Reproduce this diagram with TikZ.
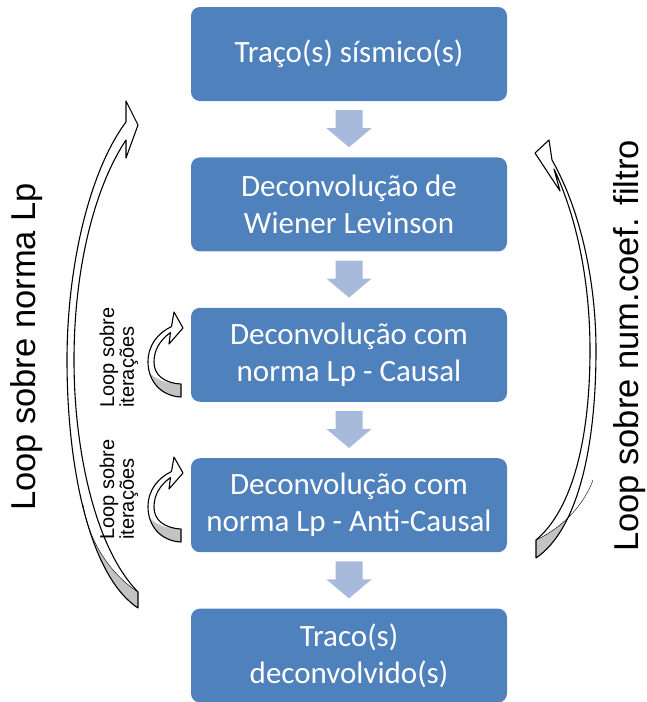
\documentclass[tikz,border=0pt]{standalone}
\usepackage{fontspec}
\setmainfont{Carlito}
\newfontfamily\arialfont{Liberation Sans}
\usetikzlibrary{positioning,calc}
\definecolor{boxblue}{RGB}{79,129,189}
\definecolor{arrowblue}{RGB}{167,186,220}
\definecolor{backgray}{RGB}{195,195,195}
% outlines of the curved loop arrows
\newcommand{\normapath}{(126,122) -- (126,101) -- (138,125) -- (126,158) -- (126,140)
  .. controls (94,188) and (74,270) .. (74,360) .. controls (74,450) and (95,548) .. (138,592)
  -- (138,608) .. controls (92,578) and (67,475) .. (67,360) .. controls (67,265) and (90,170) .. (126,122) -- cycle}
\newcommand{\coefpath}{(552,160) -- (549,140) -- (535,153) -- (560,191) -- (554,169)
  .. controls (578,220) and (590,285) .. (590,350) .. controls (590,440) and (572,510) .. (536,540)
  -- (536,558) .. controls (577,530) and (596,450) .. (596,350) .. controls (596,285) and (582,213) .. (552,160) -- cycle}
\newcommand{\iterpath}{(171.5,326.5) -- (174,312) -- (183,328) -- (169,344) -- (170.5,332.5)
  .. controls (160,340) and (154,350) .. (154,362) .. controls (154,375) and (164,383) .. (181,384)
  -- (181,397) .. controls (160,396) and (148,380) .. (148,362) .. controls (148,345) and (158,333) .. (171.5,326.5) -- cycle}

\begin{document}
\begin{tikzpicture}[x=1pt,y=-1pt]
  \tikzset{box/.style = {shape=rectangle,rounded corners=9pt,fill=boxblue,text=white,minimum width=316pt,minimum height=94pt,inner sep=0pt,align=center,font=\fontsize{31}{37}\selectfont}}
  \tikzset{flow/.style = {fill=arrowblue}}
  \tikzset{loopline/.style = {draw=black,line width=1.1pt,line join=round}}
  \tikzset{looplabel/.style = {font=\arialfont\fontsize{34.5}{40}\selectfont,rotate=90,anchor=base,inner sep=0pt}}
  \tikzset{iterlabel/.style = {font=\arialfont\fontsize{20}{17}\selectfont,rotate=90,anchor=north west,align=left,inner sep=0pt}}
  \useasboundingbox (0,0) rectangle (647,702);

  \node[box] (trace) at (349,54) {Traço(s) sísmico(s)};
  \node[box,below=56pt of trace] (wiener) {Deconvolução de\\Wiener Levinson};
  \node[box,below=56pt of wiener] (causal) {Deconvolução com\\norma Lp - Causal};
  \node[box,below=56pt of causal] (anticausal) {Deconvolução com\\norma Lp - Anti-Causal};
  \node[box,below=56pt of anticausal] (result) {Traco(s)\\deconvolvido(s)};

  \foreach \from/\to in {trace/wiener,wiener/causal,causal/anticausal,anticausal/result}
    \fill[flow] ($(\from.south)+(-13.5,9)$) -- ($(\from.south)+(13.5,9)$) -- ($(\from.south)+(13.5,27)$)
      -- ($(\from.south)+(22.5,27)$) -- ($(\to.north)+(0,-10)$) -- ($(\from.south)+(-22.5,27)$)
      -- ($(\from.south)+(-13.5,27)$) -- cycle;

  % loop sobre norma Lp
  \fill[white] \normapath;
  \begin{scope}
    \clip \normapath;
    \fill[backgray] (138,592) .. controls (112,575) and (90,545) .. (83,505) -- (0,505) -- (0,702) -- (145,702) -- (145,592) -- cycle;
  \end{scope}
  \draw[loopline] \normapath;
  \draw[black,thin] (138,592) .. controls (112,575) and (90,545) .. (83,505);

  % loop sobre num.coef. filtro
  \fill[white] \coefpath;
  \begin{scope}
    \clip \coefpath;
    \fill[backgray] (536,540) .. controls (562,528) and (584,505) .. (593,480) -- (647,480) -- (647,702) -- (530,702) -- (530,540) -- cycle;
  \end{scope}
  \draw[loopline] \coefpath;
  \draw[black,thin] (536,540) .. controls (562,528) and (584,505) .. (593,480);

  % loops sobre iteracoes
  \foreach \dy in {0,145} {
    \begin{scope}[shift={(0,\dy)}]
      \fill[white] \iterpath;
      \begin{scope}
        \clip \iterpath;
        \fill[backgray] (181,384) .. controls (166,384) and (155,379) .. (148.5,372) -- (140,372) -- (140,402) -- (186,402) -- (186,384) -- cycle;
      \end{scope}
      \draw[loopline] \iterpath;
    \end{scope}
  }

  \node[looplabel] (normaloop) at (35,347) {Loop sobre norma Lp};
  \node[looplabel] (coefloop) at (638.5,346) {Loop sobre num.coef. filtro};
  \node[iterlabel] (iterA) at (99.5,408) {Loop sobre\\iterações};
  \node[iterlabel] (iterB) at (99.5,540) {Loop sobre\\iterações};
\end{tikzpicture}
\end{document}
